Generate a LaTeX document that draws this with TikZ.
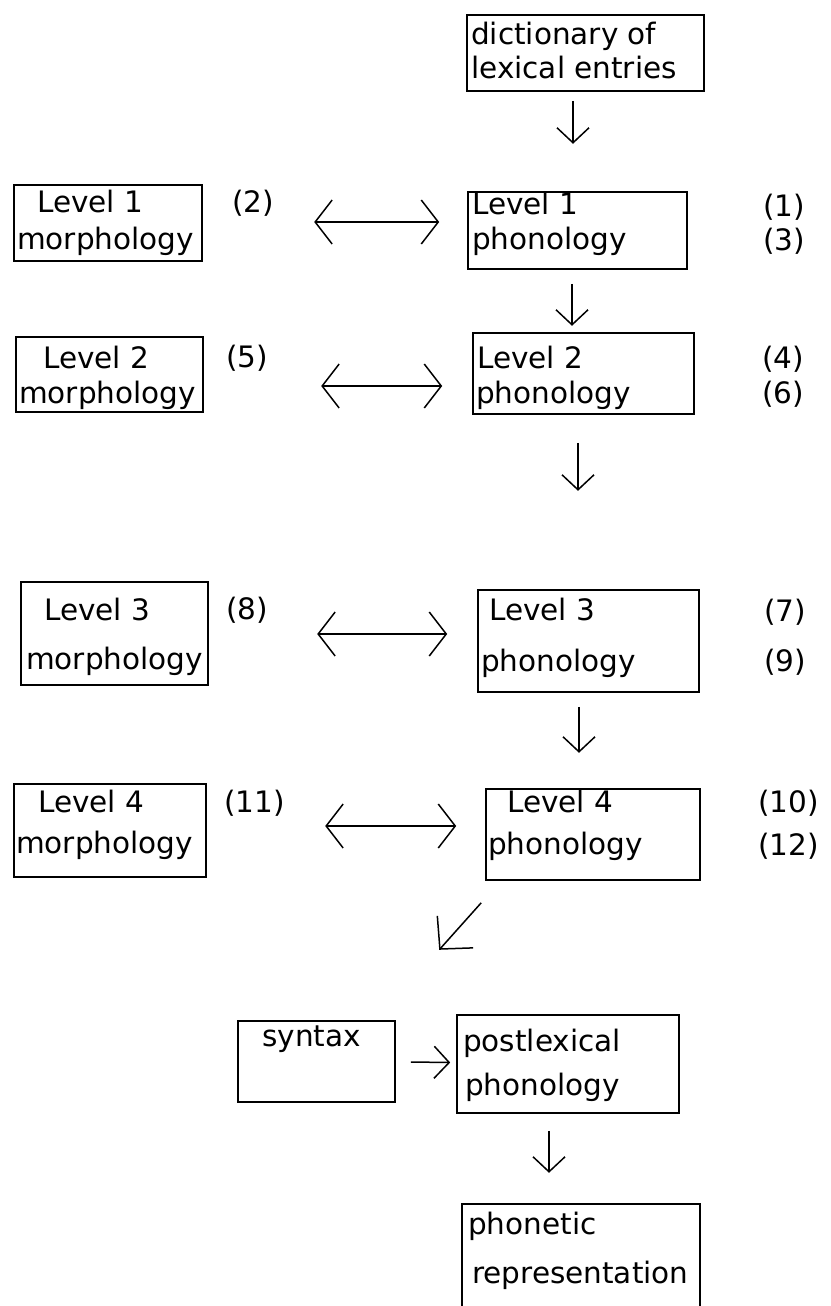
\documentclass[tikz,border=0pt]{standalone}
\usepackage{fontspec}
\setmainfont{DejaVu Sans}
\usetikzlibrary{arrows.meta,calc}
\begin{document}
\begin{tikzpicture}[x=1pt,y=-1pt,
  box/.style={draw,line width=1.6pt,inner sep=0pt},
  txt/.style={anchor=base west,inner sep=0pt,font=\fontsize{29.5}{31}\selectfont},
  arr/.style={line width=1.5pt,-{Straight Barb[length=15pt,width=32pt,line width=1.5pt]}},
  darr/.style={line width=2.2pt,{Straight Barb[length=17pt,width=44pt,line width=1.5pt]}-{Straight Barb[length=17pt,width=44pt,line width=1.5pt]}},
  diag/.style={line width=1.5pt,-{Straight Barb[length=23pt,width=48pt,line width=1.5pt]}}]
\useasboundingbox (0,0) rectangle (830,1306);
% boxes: centre = ((l+r)/2,(t+b)/2)
\node[box,minimum width=237pt,minimum height=76pt] (dict) at (585.5,53) {};
\node[box,minimum width=188pt,minimum height=76pt] (m1) at (108,223) {};
\node[box,minimum width=219pt,minimum height=77pt] (p1) at (577.5,230.5) {};
\node[box,minimum width=187pt,minimum height=75pt] (m2) at (109.5,374.5) {};
\node[box,minimum width=221pt,minimum height=81pt] (p2) at (583.5,373.5) {};
\node[box,minimum width=187pt,minimum height=103pt] (m3) at (114.5,633.5) {};
\node[box,minimum width=221pt,minimum height=102pt] (p3) at (588.5,641) {};
\node[box,minimum width=192pt,minimum height=93pt] (m4) at (110,830.5) {};
\node[box,minimum width=214pt,minimum height=91pt] (p4) at (593,834.5) {};
\node[box,minimum width=157pt,minimum height=81pt] (syn) at (316.5,1061.5) {};
\node[box,minimum width=222pt,minimum height=98pt] (post) at (568,1064) {};
\node[box,minimum width=238pt,minimum height=110pt] (phon) at (581,1259) {};
% texts
\node[txt] (t0a) at (471,45) {dictionary of};
\node[txt] (t0b) at (471,78) {lexical entries};
\node[txt] (t1a) at (37,212) {Level 1};
\node[txt] (t1b) at (17,249) {morphology};
\node[txt] (n2) at (232,212) {(2)};
\node[txt] (t1c) at (472,214) {Level 1};
\node[txt] (t1d) at (472,249) {phonology};
\node[txt] (n1) at (763,216) {(1)};
\node[txt] (n3) at (763,250) {(3)};
\node[txt] (t2a) at (43,368) {Level 2};
\node[txt] (t2b) at (19,403) {morphology};
\node[txt] (n5) at (226,367) {(5)};
\node[txt] (t2c) at (477,368) {Level 2};
\node[txt] (t2d) at (476,403) {phonology};
\node[txt] (n4) at (762,368) {(4)};
\node[txt] (n6) at (762,403) {(6)};
\node[txt] (t3a) at (44,620) {Level 3};
\node[txt] (t3b) at (26,669) {morphology};
\node[txt] (n8) at (226,619) {(8)};
\node[txt] (t3c) at (489,620) {Level 3};
\node[txt] (t3d) at (481,671) {phonology};
\node[txt] (n7) at (764,621) {(7)};
\node[txt] (n9) at (764,671) {(9)};
\node[txt] (t4a) at (38,812) {Level 4};
\node[txt] (t4b) at (16,853) {morphology};
\node[txt] (n11) at (224,812) {(11)};
\node[txt] (t4c) at (507,812) {Level 4};
\node[txt] (t4d) at (488,854) {phonology};
\node[txt] (n10) at (758,812) {(10)};
\node[txt] (n12) at (758,855) {(12)};
\node[txt] (ts) at (262,1046) {syntax};
\node[txt] (tpa) at (463,1051) {postlexical};
\node[txt] (tpb) at (465,1095) {phonology};
\node[txt] (tra) at (468,1234) {phonetic};
\node[txt] (trb) at (472,1283) {representation};
% vertical arrows
\draw[arr] ($(dict.south)+(-12.5,9)$) -- ($(dict.south)+(-12.5,52)$);
\draw[arr] ($(p1.south)+(-5.5,14)$) -- ($(p1.south)+(-5.5,56)$);
\draw[arr] ($(p2.south)+(-5.5,28)$) -- ($(p2.south)+(-5.5,76)$);
\draw[arr] ($(p3.south)+(-9.5,14)$) -- ($(p3.south)+(-9.5,60)$);
\draw[arr] ($(post.south)+(-19,17)$) -- ($(post.south)+(-19,59)$);
% horizontal double arrows
\draw[darr] ($(p1.west)+(-153,-8.5)$) -- ($(p1.west)+(-28,-8.5)$);
\draw[darr] ($(p2.west)+(-151,12.5)$) -- ($(p2.west)+(-30,12.5)$);
\draw[darr] ($(p3.west)+(-160,-7)$) -- ($(p3.west)+(-30,-7)$);
\draw[darr] ($(p4.west)+(-160,-8.5)$) -- ($(p4.west)+(-29,-8.5)$);
% diagonal arrow
\draw[diag] ($(p4.south west)+(-4,22)$) -- ($(p4.south west)+(-46,69)$);
% syntax to postlexical
\draw[arr] ($(syn.east)+(15,0.5)$) -- ($(post.west)+(-6,-1.5)$);
\end{tikzpicture}
\end{document}
